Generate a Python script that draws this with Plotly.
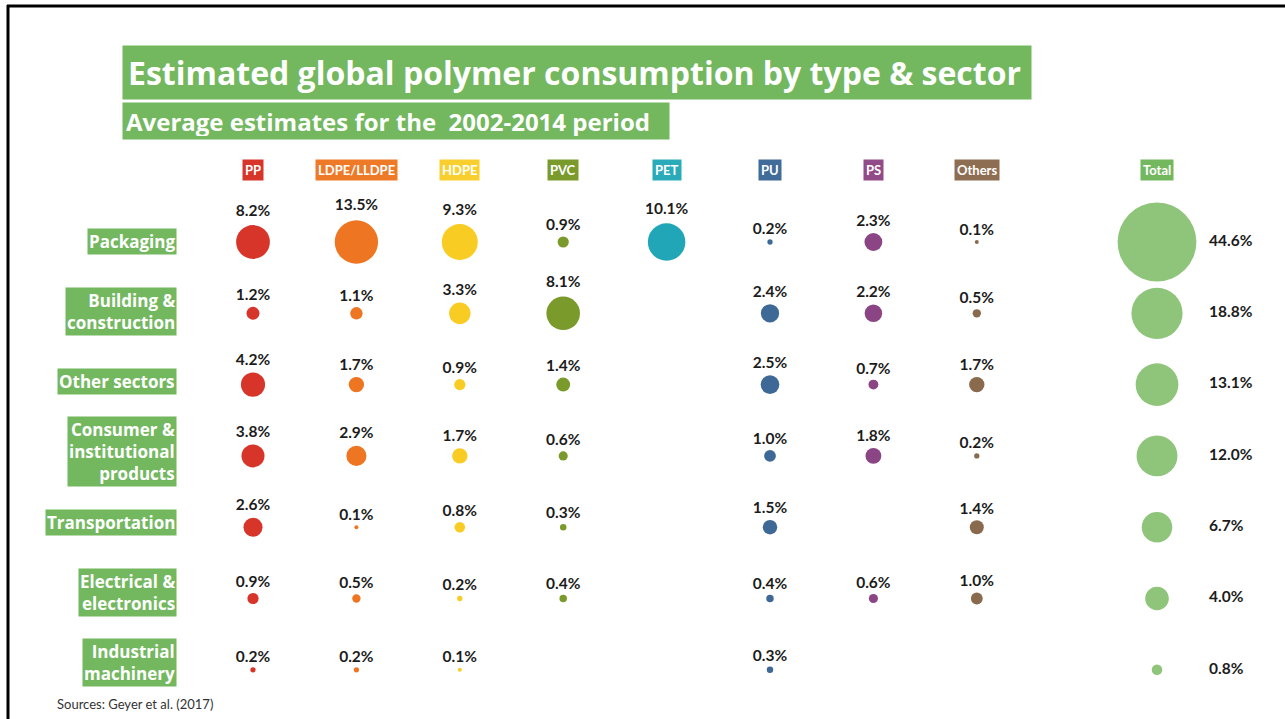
import plotly.graph_objects as go

# Sectors (rows) and polymer types (columns)
sectors = ["Packaging", "Building & construction", "Other sectors",
           "Consumer & institutional products", "Transportation",
           "Electrical & electronics", "Industrial machinery"]
sector_labels = ["Packaging", "Building &<br>construction", "Other sectors",
                 "Consumer &<br>institutional<br>products", "Transportation",
                 "Electrical &<br>electronics", "Industrial<br>machinery"]
polymers = ["PP", "LDPE/LLDPE", "HDPE", "PVC", "PET", "PU", "PS", "Others"]

# Share of global polymer consumption (%), one list per polymer, ordered by sector
pp = [8.2, 1.2, 4.2, 3.8, 2.6, 0.9, 0.2]
ldpe = [13.5, 1.1, 1.7, 2.9, 0.1, 0.5, 0.2]
hdpe = [9.3, 3.3, 0.9, 1.7, 0.8, 0.2, 0.1]
pvc = [0.9, 8.1, 1.4, 0.6, 0.3, 0.4, None]
pet = [10.1, None, None, None, None, None, None]
pu = [0.2, 2.4, 2.5, 1.0, 1.5, 0.4, 0.3]
ps = [2.3, 2.2, 0.7, 1.8, None, 0.6, None]
others = [0.1, 0.5, 1.7, 0.2, 1.4, 1.0, None]
totals = [44.6, 18.8, 13.1, 12.0, 6.7, 4.0, 0.8]

series = [pp, ldpe, hdpe, pvc, pet, pu, ps, others]
colors = ["#d8352a", "#ee7623", "#f8cc22", "#7a9a2c", "#20a6b6",
          "#3e6895", "#8c4584", "#8a6a4d"]
header_colors = ["#d8352a", "#ee7a28", "#f8cf2e", "#7a9a2c", "#2aabb9",
                 "#416b98", "#914b88", "#8e6e52"]
GREEN = "#73b85f"
TOTAL_COLOR = "#8fc47b"

W, H = 1285, 719
FONT = "Lato"
BOX_FONT = "Open Sans"
# pixel layout of the grid
COL0, COLSTEP = 253, 103.4
ROW0, ROWSTEP = 242, 71.3
TOTAL_X = (1157 - COL0) / COLSTEP
TOTAL_LABEL_X = (1209 - COL0) / COLSTEP
SIZEREF = 2 / 11.8 ** 2  # bubble area proportional to share


def px_x(p):
    return p / W


def px_y(p):
    return 1 - p / H


fig = go.Figure()

for i, (name, vals, col) in enumerate(zip(polymers, series, colors)):
    rows = [r for r, v in enumerate(vals) if v is not None]
    v = [vals[r] for r in rows]
    fig.add_trace(go.Scatter(
        x=[i] * len(rows), y=rows, name=name,
        mode="markers+text",
        marker=dict(size=v, sizemode="area", sizeref=SIZEREF, sizemin=2,
                    color=col, opacity=1, line=dict(width=0)),
        text=[f"{x:.1f}%" for x in v], textposition="top center",
        textfont=dict(family=FONT, size=15.5, color="#1c1c1c", weight="bold"),
        hoverinfo="skip", showlegend=False, cliponaxis=False,
    ))

# Totals per sector
fig.add_trace(go.Scatter(
    x=[TOTAL_X] * len(totals), y=list(range(len(totals))), name="Total",
    mode="markers",
    marker=dict(size=totals, sizemode="area", sizeref=SIZEREF,
                color=TOTAL_COLOR, opacity=1, line=dict(width=0)),
    hoverinfo="skip", showlegend=False, cliponaxis=False,
))
fig.add_trace(go.Scatter(
    x=[TOTAL_LABEL_X] * len(totals), y=list(range(len(totals))),
    mode="text", text=[f"{x:.1f}%" for x in totals],
    textposition="middle right",
    textfont=dict(family=FONT, size=15.5, color="#1c1c1c", weight="bold"),
    hoverinfo="skip", showlegend=False, cliponaxis=False,
))

ann = []
# Title and subtitle boxes
ann.append(dict(xref="paper", yref="paper", x=px_x(122), y=px_y(72),
                xanchor="left", yanchor="middle", showarrow=False,
                text="<b>Estimated global polymer consumption by type &amp; sector</b>",
                font=dict(family=BOX_FONT, size=32, color="white"),
                bgcolor=GREEN, borderpad=5, width=898, height=43, align="left"))
ann.append(dict(xref="paper", yref="paper", x=px_x(122), y=px_y(121),
                xanchor="left", yanchor="middle", showarrow=False,
                text="<b>Average estimates for the \u00a02002-2014 period</b>",
                font=dict(family=BOX_FONT, size=24, color="white"),
                bgcolor=GREEN, borderpad=3, width=540, height=30, align="left"))

# Column headers
for i, (name, hc) in enumerate(zip(polymers, header_colors)):
    ann.append(dict(xref="x", yref="paper", x=i, y=px_y(170),
                    xanchor="center", yanchor="middle", showarrow=False,
                    text=f"<b>{name}</b>",
                    font=dict(family=FONT, size=13, color="white"),
                    bgcolor=hc, borderpad=2))
ann.append(dict(xref="x", yref="paper", x=TOTAL_X, y=px_y(170),
                xanchor="center", yanchor="middle", showarrow=False,
                text="<b>Total</b>", font=dict(family=FONT, size=13, color="white"),
                bgcolor=GREEN, borderpad=2))

# Sector labels
for r, lab in enumerate(sector_labels):
    ann.append(dict(xref="paper", yref="y", x=px_x(177), y=r, yshift=1 + r,
                    xanchor="right", yanchor="middle", showarrow=False,
                    text=f"<b>{lab}</b>", align="right",
                    font=dict(family=BOX_FONT, size=17, color="white"),
                    bgcolor=GREEN, borderpad=1))

# Source note
ann.append(dict(xref="paper", yref="paper", x=px_x(55), y=px_y(704),
                xanchor="left", yanchor="middle", showarrow=False,
                text="Sources: Geyer et al. (2017)",
                font=dict(family=FONT, size=13, color="#333333")))

shapes = [
    dict(type="line", xref="paper", yref="paper", x0=px_x(7), x1=1,
         y0=px_y(6), y1=px_y(6), line=dict(color="black", width=3)),
    dict(type="line", xref="paper", yref="paper", x0=px_x(8), x1=px_x(8),
         y0=px_y(5), y1=0, line=dict(color="black", width=3)),
]

fig.update_layout(
    width=W, height=H, margin=dict(l=0, r=0, t=0, b=0),
    paper_bgcolor="white", plot_bgcolor="white",
    xaxis=dict(range=[-COL0 / COLSTEP, (W - COL0) / COLSTEP], visible=False,
               fixedrange=True),
    yaxis=dict(range=[(H - ROW0) / ROWSTEP, -ROW0 / ROWSTEP], visible=False,
               fixedrange=True),
    annotations=ann, shapes=shapes, showlegend=False,
)

fig.write_html("out.html")
